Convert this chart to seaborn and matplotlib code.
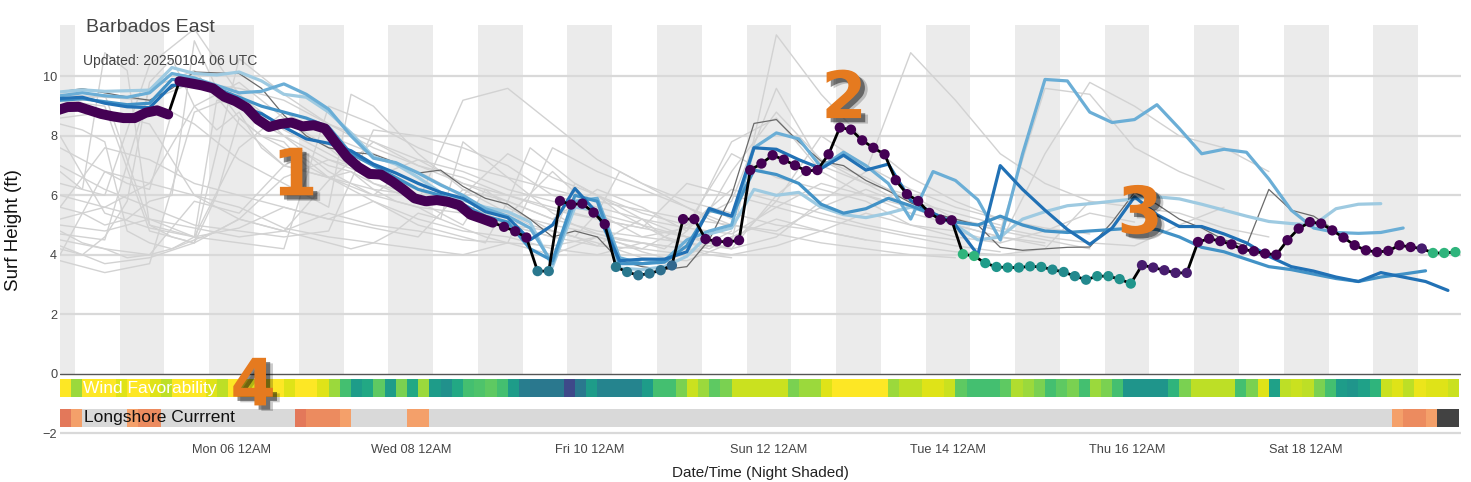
import numpy as np
import pandas as pd
import matplotlib
matplotlib.use("Agg")
import matplotlib.pyplot as plt
import matplotlib.dates as mdates
import matplotlib.patheffects as pe
import seaborn as sns

# forecast run 20250104 06 UTC -> 02:00 local time
run_start = pd.Timestamp("2025-01-04 02:00")

# main forecast, 3-hourly (first ~5 days are so dense they read as a band)
main_hours = np.arange(-1, 375, 3)
main_surf = [
    8.85, 8.97, 8.98, 8.86, 8.74, 8.66, 8.60, 8.60, 8.78, 8.86,
    8.72, 9.84, 9.77, 9.70, 9.60, 9.32, 9.17, 8.95, 8.55, 8.30,
    8.40, 8.45, 8.32, 8.36, 8.25, 7.75, 7.28, 6.95, 6.72, 6.70,
    6.47, 6.20, 5.90, 5.80, 5.84, 5.78, 5.67, 5.35, 5.22, 5.08,
    4.94, 4.79, 4.58, 3.45, 3.45, 5.81, 5.69, 5.72, 5.42, 5.03,
    3.59, 3.42, 3.31, 3.37, 3.48, 3.64, 5.20, 5.20, 4.53, 4.45,
    4.43, 4.49, 6.85, 7.07, 7.35, 7.20, 7.01, 6.82, 6.85, 7.38,
    8.28, 8.21, 7.85, 7.60, 7.38, 6.51, 6.04, 5.81, 5.41, 5.18,
    5.16, 4.02, 3.96, 3.72, 3.59, 3.57, 3.57, 3.61, 3.59, 3.50,
    3.42, 3.28, 3.16, 3.28, 3.28, 3.18, 3.03, 3.65, 3.57, 3.48,
    3.39, 3.39, 4.43, 4.54, 4.46, 4.35, 4.18, 4.12, 4.04, 4.00,
    4.49, 4.88, 5.10, 5.05, 4.82, 4.58, 4.32, 4.15, 4.09, 4.13,
    4.32, 4.26, 4.21, 4.06, 4.06, 4.09,
]
# colour of the separate dots (from index 40 on), viridis scale 0-1
dot_shade = [
    0.0, 0.0, 0.0, 0.40, 0.40, 0.0, 0.0, 0.0, 0.0, 0.0,
    0.40, 0.40, 0.38, 0.38, 0.36, 0.33, 0.0, 0.0, 0.0, 0.0,
    0.0, 0.0, 0.0, 0.0, 0.0, 0.0, 0.0, 0.0, 0.0, 0.0,
    0.0, 0.0, 0.0, 0.0, 0.0, 0.0, 0.0, 0.0, 0.0, 0.0,
    0.0, 0.65, 0.65, 0.55, 0.52, 0.52, 0.50, 0.50, 0.50, 0.48,
    0.48, 0.47, 0.47, 0.50, 0.50, 0.50, 0.52, 0.08, 0.08, 0.08,
    0.08, 0.08, 0.0, 0.0, 0.0, 0.0, 0.0, 0.0, 0.0, 0.0,
    0.0, 0.0, 0.0, 0.0, 0.0, 0.0, 0.0, 0.0, 0.0, 0.0,
    0.0, 0.0, 0.08, 0.65, 0.65, 0.65,
]

# model runs, 6-hourly
blue_hours = np.arange(0, 373, 6)
nan = np.nan
blue_dark = [
    9.26, 9.30, 9.10, 8.98, 8.95, 9.70, 9.75, 9.45, 9.00, 8.75,
    8.30, 7.90, 7.75, 7.50, 7.05, 6.75, 6.40, 6.10, 5.90, 5.45,
    5.25, 4.50, 5.00, 6.23, 5.40, 3.80, 3.85, 3.85, 4.10, 5.56,
    5.30, 7.60, 7.55, 7.20, 6.90, 7.35, 6.85, 7.05, 5.83, 5.40,
    5.00, 4.00, 7.00, 6.20, 5.50, 4.85, 4.35, 4.90, 5.95, 5.35,
    4.95, 4.95, 4.70, 4.40, 3.95, 3.60, 3.45, 3.25, 3.10, 3.40,
    3.25, 3.10, 2.80,
]
blue_mid = [
    9.20, 9.25, 9.15, 9.05, 9.10, 9.90, 9.85, 9.60, 9.30, 9.00,
    8.80, 8.60, 8.30, 7.40, 7.00, 6.60, 6.20, 6.00, 5.70, 5.30,
    5.10, 4.20, 3.80, 6.00, 5.80, 3.70, 3.70, 3.75, 4.30, 5.50,
    5.30, 6.85, 6.70, 6.40, 5.70, 5.40, 5.55, 5.90, 5.65, 5.35,
    5.10, 5.00, 5.30, 5.00, 4.80, 4.75, 4.80, 4.85, 4.90, 4.85,
    4.60, 4.25, 4.10, 3.85, 3.60, 3.50, 3.35, 3.20, 3.10, 3.25,
    3.35, 3.46, nan,
]
blue_light = [
    9.35, 9.45, 9.35, 9.30, 9.45, 10.10, 9.95, 9.70, 9.45, 9.50,
    9.75, 9.40, 8.90, 8.00, 7.25, 7.10, 6.75, 6.35, 6.00, 5.55,
    5.30, 4.90, 3.70, 5.80, 5.90, 3.90, 3.70, 3.80, 4.50, 4.80,
    5.00, 7.60, 8.10, 7.90, 6.95, 7.45, 7.00, 6.40, 5.20, 6.80,
    6.50, 5.85, 4.50, 7.40, 9.90, 9.85, 8.80, 8.45, 8.55, 9.05,
    8.25, 7.40, 7.55, 7.45, 6.55, 5.50, 4.90, 4.75, 4.72, 4.75,
    4.90, nan, nan,
]
blue_pale = [
    9.48, 9.55, 9.50, 9.52, 9.54, 10.30, 10.10, 10.05, 10.15, 9.85,
    9.40, 9.30, 8.80, 8.10, 7.30, 7.05, 6.60, 6.10, 5.85, 5.60,
    5.45, 5.10, 3.60, 5.60, 5.50, 3.55, 3.50, 3.60, 3.95, 4.70,
    4.90, 6.20, 6.00, 6.10, 5.60, 5.35, 5.25, 5.40, 5.60, 5.40,
    5.00, 4.50, 4.60, 5.20, 5.45, 5.65, 5.72, 5.80, 5.88, 5.95,
    5.88, 5.70, 5.50, 5.30, 5.12, 5.05, 5.00, 5.55, 5.70, 5.72,
    nan, nan, nan,
]
dark_gray_run = [
    9.48, 9.59, 9.45, 9.31, 9.20, 9.60, 10.15, 10.12, 10.10, 9.60,
    8.70, 8.00, 7.60, 7.45, 7.38, 7.10, 6.75, 6.85, 6.30, 5.90,
    5.70, 5.20, 4.60, 4.80, 4.60, 3.80, 3.60, 3.50, 3.60, 4.50,
    6.00, 8.42, 8.55, 7.80, 7.15, 7.00, 6.50, 6.15, 5.75, 5.40,
    5.20, 5.00, 4.25, 4.15, 4.20, 4.25, 4.26, 5.10, 6.10, 5.70,
    5.20, 4.90, 4.50, 4.30, 6.20, 5.50, 5.30, 4.80, nan, nan,
    nan, nan, nan,
]

# ensemble members, 12-hourly
ens_hours = np.arange(0, 373, 12)
ens_members = [
    [4.7, 4.5, 9.6, 10.2, 8.4, 7.0, 6.6, 6.2, 6.0, 5.6, 5.3, 6.8, 5.4, 4.6, 4.9, 6.2, 5.8, 5.4, 5.0, 4.7, 4.5],
    [3.8, 3.4, 3.7, 8.8, 9.4, 8.2, 7.4, 6.6, 7.2, 6.4, 5.8, 5.2, 6.2, 5.6, 4.8, 7.8, 8.6, 6.8, 6.0, 5.4, 5.0, 4.6, 4.3],
    [6.0, 5.6, 5.2, 4.6, 7.6, 8.8, 8.0, 7.4, 6.8, 6.0, 7.4, 6.6, 6.0, 5.4, 5.0, 5.8, 9.6, 7.0, 6.4, 6.0, 5.2, 4.8, 9.6, 9.4, 7.6, 6.8, 6.2],
    [8.6, 8.8, 8.4, 6.0, 5.2, 4.8, 6.5, 7.8, 7.0, 6.4, 6.0, 5.6, 5.2, 4.9, 6.4, 6.0, 5.6, 5.2, 4.9, 4.6, 4.3, 4.1],
    [9.2, 9.0, 4.8, 4.4, 5.2, 6.6, 7.2, 6.8, 6.2, 5.4, 5.0, 4.6, 4.3, 4.2, 5.0, 7.4, 6.6, 6.2, 5.8, 5.0, 4.6, 4.4, 4.8, 5.4, 5.1],
    [5.6, 7.6, 7.2, 6.4, 6.0, 5.6, 5.2, 5.8, 5.2, 4.8, 4.6, 4.2, 4.0, 4.4, 4.2, 6.8, 8.8, 7.2, 6.4, 5.6, 5.0, 4.6, 4.4],
    [4.3, 3.7, 3.9, 4.4, 10.6, 9.4, 8.4, 7.8, 7.2, 6.8, 6.2, 5.8, 5.4, 5.0, 4.6, 4.2, 6.0, 7.2, 6.6, 5.8, 5.4, 5.0],
    [7.0, 6.2, 5.6, 5.0, 4.8, 4.6, 4.8, 8.2, 8.0, 7.6, 7.0, 6.0, 5.6, 5.2, 4.9, 4.7, 5.6, 6.4, 6.0, 5.6, 5.2, 4.8, 4.5, 4.2],
    [5.2, 5.6, 6.4, 9.0, 9.8, 8.6, 7.6, 6.4, 5.8, 9.2, 9.6, 8.4, 7.2, 6.4, 5.8, 5.4, 5.0, 4.8, 5.4, 5.0, 4.8, 4.4, 7.4, 9.8, 9.0, 8.0, 7.6, 6.8],
    [4.5, 4.2, 4.0, 5.8, 5.4, 7.0, 6.6, 6.0, 5.6, 5.4, 5.0, 4.8, 4.4, 3.9, 3.8, 4.4, 11.4, 9.4, 7.8, 6.6, 5.8, 5.2, 4.8],
    [8.0, 5.4, 4.9, 4.6, 4.9, 5.6, 5.2, 4.9, 4.6, 6.2, 5.8, 5.2, 4.8, 4.6, 4.4, 4.2, 4.6, 5.8, 6.8, 10.8, 9.2, 7.4, 6.4, 5.8],
    [4.0, 6.8, 6.4, 6.0, 5.6, 4.9, 4.6, 4.4, 4.2, 4.0, 4.4, 7.6, 6.8, 6.2, 5.6, 5.0, 4.7, 4.4, 4.2, 4.0, 3.9],
    [9.0, 9.4, 5.0, 4.6, 4.4, 4.2, 9.0, 8.4, 7.6, 7.0, 6.6, 6.2, 5.8, 5.5, 5.2, 5.0, 4.8, 5.6, 6.2, 5.6, 5.2, 4.9, 4.6, 4.4, 4.3, 5.0, 5.6],
    [6.4, 6.0, 10.4, 11.6, 9.4, 8.0, 7.2, 6.6, 6.2, 5.8, 5.4, 5.0, 4.7, 4.4, 4.2, 4.0, 4.3, 4.8, 4.5, 4.3, 4.1, 4.0, 4.2, 5.8, 5.6, 5.4, 4.9, 4.6],
    [5.0, 4.8, 5.2, 4.9, 4.6, 4.8, 5.4, 5.0, 4.8, 4.5, 4.4, 4.3, 4.6, 4.2, 4.0, 4.6, 5.2, 4.8, 4.5],
    [9.4, 9.3, 9.2, 9.8, 9.6, 9.2, 8.4, 7.6, 7.0, 6.6, 6.0, 5.5, 5.2, 4.9, 4.6, 4.4, 5.8, 8.0, 7.0, 6.2, 5.6, 5.2, 4.9, 4.7],
]
# more members, 6-hourly over the first week
ens6_hours = np.arange(0, 181, 6)
ens6_members = [
    [4.2, 4.0, 4.6, 5.8, 9.8, 10.6, 9.0, 8.2, 8.8, 7.6, 7.0, 7.4, 6.8, 6.4, 6.0, 6.6, 5.8, 5.4, 5.0, 6.2, 5.6, 5.2, 4.8, 4.6, 4.3, 4.8, 5.2, 4.6, 4.4, 4.2, 4.6],
    [6.8, 6.2, 10.8, 10.2, 5.0, 4.6, 4.4, 6.0, 8.6, 8.0, 7.8, 7.0, 6.6, 6.8, 6.2, 5.8, 5.6, 5.2, 7.8, 7.2, 6.6, 6.0, 5.4, 5.0, 4.7, 4.5, 4.4, 4.2, 4.8, 5.6, 5.2],
    [8.4, 8.2, 7.8, 4.8, 4.4, 4.2, 4.6, 9.2, 9.0, 8.4, 8.0, 7.4, 7.0, 6.8, 6.4, 6.2, 5.8, 6.0, 5.6, 5.4, 5.0, 4.8, 4.6, 6.4, 6.0, 5.4, 5.0, 4.6, 4.2, 4.0, 3.9],
    [5.6, 5.4, 5.0, 5.2, 5.8, 6.0, 11.2, 9.6, 8.6, 8.0, 7.6, 7.2, 6.6, 6.2, 5.8, 5.4, 5.0, 4.8, 4.6, 4.4, 5.8, 7.6, 7.0, 6.4, 6.0, 5.6, 5.2, 4.9, 4.6, 4.4, 4.2],
    [4.8, 4.4, 4.2, 3.9, 4.0, 4.2, 4.5, 4.8, 5.2, 5.0, 4.8, 4.6, 4.4, 4.2, 4.4, 4.8, 5.4, 5.2, 4.9, 4.6, 4.4, 4.2, 4.0, 4.3, 4.6, 4.4, 4.1, 3.9, 4.0, 4.4, 4.8],
    [7.6, 7.2, 6.8, 6.4, 6.2, 8.8, 8.4, 7.8, 7.2, 6.8, 6.4, 6.0, 5.6, 9.4, 9.0, 8.2, 7.4, 6.8, 6.2, 5.8, 5.4, 5.0, 4.8, 4.6, 5.4, 6.8, 6.4, 6.0, 5.6, 5.2, 4.9],
]

# 3-hourly strips
strip_hours = np.arange(0, 375, 3)
wind_fav = [
    1.0, 0.85, 1.0, 1.0, 1.0, 0.95, 1.0, 1.0, 0.95, 0.9,
    1.0, 1.0, 1.0, 0.95, 0.9, 1.0, 1.0, 0.95, 1.0, 1.0,
    0.95, 1.0, 1.0, 0.95, 0.85, 0.7, 0.55, 0.6, 0.75, 0.55,
    0.8, 0.6, 0.85, 0.55, 0.5, 0.6, 0.7, 0.72, 0.75, 0.7,
    0.55, 0.42, 0.4, 0.4, 0.4, 0.22, 0.4, 0.55, 0.45, 0.45,
    0.45, 0.45, 0.55, 0.7, 0.7, 0.8, 0.92, 0.85, 0.75, 0.8,
    0.92, 0.92, 0.92, 0.92, 0.92, 0.8, 0.85, 0.85, 0.95, 1.0,
    1.0, 1.0, 1.0, 1.0, 0.85, 0.9, 0.9, 0.95, 0.95, 0.92,
    0.75, 0.7, 0.7, 0.7, 0.75, 0.88, 0.85, 0.8, 0.7, 0.75,
    0.8, 0.7, 0.85, 0.8, 0.7, 0.52, 0.52, 0.52, 0.52, 0.65,
    0.8, 0.9, 0.9, 0.9, 0.9, 0.7, 0.8, 0.95, 0.57, 0.9,
    0.92, 0.9, 0.8, 0.7, 0.55, 0.52, 0.57, 0.65, 0.92, 0.95,
    0.9, 0.97, 0.95, 0.95, 0.92,
]
# 0 = weak, 1-3 = stronger (orange), -1 = strongest (dark)
longshore = [
    3, 1, 0, 0, 0, 0, 1, 2, 2, 0,
    0, 0, 0, 0, 0, 0, 0, 0, 0, 0,
    0, 3, 2, 2, 2, 1, 0, 0, 0, 0,
    0, 1, 1, 0, 0, 0, 0, 0, 0, 0,
    0, 0, 0, 0, 0, 0, 0, 0, 0, 0,
    0, 0, 0, 0, 0, 0, 0, 0, 0, 0,
    0, 0, 0, 0, 0, 0, 0, 0, 0, 0,
    0, 0, 0, 0, 0, 0, 0, 0, 0, 0,
    0, 0, 0, 0, 0, 0, 0, 0, 0, 0,
    0, 0, 0, 0, 0, 0, 0, 0, 0, 0,
    0, 0, 0, 0, 0, 0, 0, 0, 0, 0,
    0, 0, 0, 0, 0, 0, 0, 0, 0, 1,
    2, 2, 1, -1, -1,
]
current_colors = {0: "#d9d9d9", 1: "#f4a06a", 2: "#ec8b5f", 3: "#e3785a", -1: "#424242"}


def to_time(hours):
    return run_start + pd.to_timedelta(np.asarray(hours, dtype=float), unit="h")


def pad(vals, n):
    return list(vals) + [np.nan] * (n - len(vals))


sns.set_style("white")
plt.rcParams["font.family"] = ["Liberation Sans", "DejaVu Sans"]

fig, ax = plt.subplots(figsize=(14.71, 4.82), dpi=100)
fig.subplots_adjust(left=0.0408, right=0.9932, top=0.948, bottom=0.0954)

y_lo, y_hi = -2.1, 11.73
zero_frac = (0 - y_lo) / (y_hi - y_lo)

# night shading 18:00-06:00
for n in pd.date_range("2025-01-03 18:00", periods=17, freq="D"):
    ax.axvspan(n, n + pd.Timedelta(hours=12), ymin=zero_frac, ymax=1,
               color="#ebebeb", lw=0, zorder=0)

for y in [-2, 2, 4, 6, 8, 10]:
    ax.axhline(y, color="#d9d9d9", lw=1.6, zorder=1)
ax.axhline(0, color="#555555", lw=1.0, zorder=1)

# ensemble members
for hrs, group in [(ens_hours, ens_members), (ens6_hours, ens6_members)]:
    t = to_time(hrs)
    for m in group:
        sns.lineplot(x=t, y=pad(m, len(hrs)), color="#d2d2d2", lw=1.0,
                     estimator=None, sort=False, ax=ax, zorder=2)

blue_t = to_time(blue_hours)
sns.lineplot(x=blue_t, y=dark_gray_run, color="#6a6a6a", lw=0.9,
             estimator=None, sort=False, ax=ax, zorder=3)
for vals, col in [(blue_pale, "#9ecae1"), (blue_light, "#6baed6"),
                  (blue_mid, "#4292c6"), (blue_dark, "#2171b5")]:
    sns.lineplot(x=blue_t, y=vals, color=col, lw=2.3,
                 estimator=None, sort=False, ax=ax, zorder=4)

# main forecast
main_t = to_time(main_hours)
sns.lineplot(x=main_t, y=main_surf, color="black", lw=2.0,
             estimator=None, sort=False, ax=ax, zorder=5)
for a, b in [(0, 11), (11, 40)]:
    ax.plot(main_t[a:b], main_surf[a:b], color="#440154", lw=7.2,
            solid_capstyle="round", solid_joinstyle="round", zorder=6)
sns.scatterplot(x=main_t[40:], y=main_surf[40:], hue=dot_shade, palette="viridis",
                hue_norm=(0, 1), s=55, linewidth=0, legend=False, ax=ax, zorder=7)

# wind / current strips
left_edges = mdates.date2num(to_time(strip_hours).to_pydatetime())
cmap = plt.get_cmap("viridis")
ax.bar(left_edges, 0.60, bottom=-0.79, width=3 / 24, align="edge",
       color=[cmap(v) for v in wind_fav], lw=0, zorder=2)
ax.bar(left_edges, 0.62, bottom=-1.80, width=3 / 24, align="edge",
       color=[current_colors[c] for c in longshore], lw=0, zorder=2)
tr = ax.get_yaxis_transform()
ax.text(0.0164, -0.49, "Wind Favorability", transform=tr, color="white",
        fontsize=12.5, va="center", zorder=8)
ax.text(0.0171, -1.49, "Longshore Currrent", transform=tr, color="#111111",
        fontsize=12.5, va="center", zorder=8)

# numbered callouts
shadow = [pe.SimplePatchShadow(offset=(5, -4), shadow_rgbFace="#000000", alpha=0.2),
          pe.SimplePatchShadow(offset=(3, -3), shadow_rgbFace="#000000", alpha=0.45),
          pe.Normal()]
for label, xf, yb in [("1", 0.1677, 6.0), ("2", 0.5596, 8.6),
                      ("3", 0.7709, 4.72), ("4", 0.1378, -1.07)]:
    ax.text(xf, yb, label, transform=tr, ha="center", va="baseline",
            fontsize=47, fontweight="bold", color="#e57a1f",
            family="DejaVu Sans", path_effects=shadow, zorder=9)

ax.set_xlim(run_start, run_start + pd.Timedelta(hours=375.5))
ax.set_ylim(y_lo, y_hi)
ax.set_xticks(pd.date_range("2025-01-06", "2025-01-18", freq="2D"))
ax.xaxis.set_major_formatter(mdates.DateFormatter("%a %d %I%p"))
ax.set_yticks([-2, 0, 2, 4, 6, 8, 10])
ax.tick_params(axis="both", length=0, labelsize=9.2, colors="#444444")
ax.tick_params(axis="x", pad=6)
ax.tick_params(axis="y", pad=2)
for s in ax.spines.values():
    s.set_visible(False)

ax.set_xlabel("Date/Time (Night Shaded)", fontsize=11, color="#222222", labelpad=7)
ax.set_ylabel("Surf Height (ft)", fontsize=13.5, color="#111111", labelpad=15)

fig.text(86 / 1471, 1 - 28 / 482, "Barbados East", fontsize=14, color="#444444", va="center")
fig.text(83 / 1471, 1 - 61 / 482, "Updated: 20250104 06 UTC", fontsize=10, color="#444444", va="center")

fig.savefig("out.png", dpi=100)
